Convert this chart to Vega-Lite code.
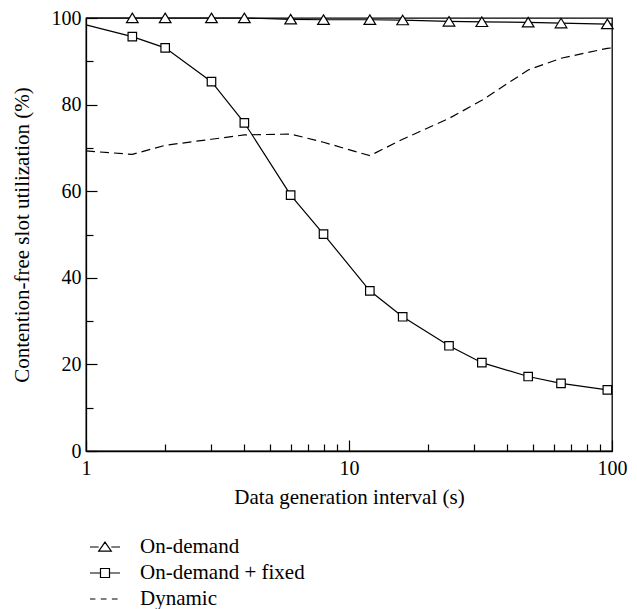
{
  "$schema": "https://vega.github.io/schema/vega-lite/v6.json",
  "width": 526,
  "height": 433,
  "autosize": {"type": "none"},
  "padding": {"left": 86, "top": 18, "right": 25, "bottom": 158},
  "background": "white",
  "config": {
    "view": {"stroke": "black", "strokeWidth": 1.3},
    "font": "Liberation Serif",
    "axis": {
      "grid": false,
      "domainColor": "black",
      "domainWidth": 1.3,
      "tickColor": "black",
      "tickWidth": 1.2,
      "labelColor": "black",
      "titleColor": "black",
      "labelFont": "Liberation Serif",
      "titleFont": "Liberation Serif",
      "labelFontSize": 20,
      "titleFontSize": 21,
      "titleFontWeight": "normal"
    }
  },
  "data": {
    "values": [
      {"series": "On-demand", "x": 1, "y": 100, "marker": false},
      {"series": "On-demand", "x": 1.5, "y": 100, "marker": true},
      {"series": "On-demand", "x": 2, "y": 100, "marker": true},
      {"series": "On-demand", "x": 3, "y": 100, "marker": true},
      {"series": "On-demand", "x": 4, "y": 100, "marker": true},
      {"series": "On-demand", "x": 6, "y": 99.7, "marker": true},
      {"series": "On-demand", "x": 8, "y": 99.6, "marker": true},
      {"series": "On-demand", "x": 12, "y": 99.6, "marker": true},
      {"series": "On-demand", "x": 16, "y": 99.5, "marker": true},
      {"series": "On-demand", "x": 24, "y": 99.2, "marker": true},
      {"series": "On-demand", "x": 32, "y": 99.1, "marker": true},
      {"series": "On-demand", "x": 48, "y": 99.0, "marker": true},
      {"series": "On-demand", "x": 64, "y": 98.8, "marker": true},
      {"series": "On-demand", "x": 96, "y": 98.6, "marker": true},
      {"series": "On-demand", "x": 100, "y": 98.6, "marker": false},
      {"series": "On-demand + fixed", "x": 1, "y": 98.4, "marker": false},
      {"series": "On-demand + fixed", "x": 1.5, "y": 95.7, "marker": true},
      {"series": "On-demand + fixed", "x": 2, "y": 93.1, "marker": true},
      {"series": "On-demand + fixed", "x": 3, "y": 85.3, "marker": true},
      {"series": "On-demand + fixed", "x": 4, "y": 75.8, "marker": true},
      {"series": "On-demand + fixed", "x": 6, "y": 59.1, "marker": true},
      {"series": "On-demand + fixed", "x": 8, "y": 50.1, "marker": true},
      {"series": "On-demand + fixed", "x": 12, "y": 37.0, "marker": true},
      {"series": "On-demand + fixed", "x": 16, "y": 31.0, "marker": true},
      {"series": "On-demand + fixed", "x": 24, "y": 24.3, "marker": true},
      {"series": "On-demand + fixed", "x": 32, "y": 20.4, "marker": true},
      {"series": "On-demand + fixed", "x": 48, "y": 17.2, "marker": true},
      {"series": "On-demand + fixed", "x": 64, "y": 15.6, "marker": true},
      {"series": "On-demand + fixed", "x": 96, "y": 14.1, "marker": true},
      {"series": "On-demand + fixed", "x": 100, "y": 14.0, "marker": false},
      {"series": "Dynamic", "x": 1, "y": 69.3, "marker": false},
      {"series": "Dynamic", "x": 1.5, "y": 68.5, "marker": false},
      {"series": "Dynamic", "x": 2, "y": 70.6, "marker": false},
      {"series": "Dynamic", "x": 3, "y": 72.0, "marker": false},
      {"series": "Dynamic", "x": 4, "y": 73.0, "marker": false},
      {"series": "Dynamic", "x": 6, "y": 73.2, "marker": false},
      {"series": "Dynamic", "x": 8, "y": 71.3, "marker": false},
      {"series": "Dynamic", "x": 12, "y": 68.2, "marker": false},
      {"series": "Dynamic", "x": 16, "y": 72.0, "marker": false},
      {"series": "Dynamic", "x": 24, "y": 76.8, "marker": false},
      {"series": "Dynamic", "x": 32, "y": 81.0, "marker": false},
      {"series": "Dynamic", "x": 48, "y": 88.0, "marker": false},
      {"series": "Dynamic", "x": 64, "y": 90.7, "marker": false},
      {"series": "Dynamic", "x": 96, "y": 93.0, "marker": false},
      {"series": "Dynamic", "x": 100, "y": 93.1, "marker": false}
    ]
  },
  "encoding": {
    "x": {
      "field": "x",
      "type": "quantitative",
      "scale": {"type": "log", "domain": [1, 100], "nice": false},
      "axis": {
        "title": "Data generation interval (s)",
        "values": [1, 2, 3, 4, 5, 6, 7, 8, 9, 10, 20, 30, 40, 50, 60, 70, 80, 90, 100],
        "format": "d",
        "labelExpr": "datum.value == 1 || datum.value == 10 || datum.value == 100 ? datum.label : ''",
        "tickSize": {"condition": {"test": "datum.value == 1 || datum.value == 10 || datum.value == 100", "value": -11}, "value": -7},
        "labelPadding": 18,
        "titlePadding": 4,
        "labelFlush": false,
        "labelOverlap": false
      }
    },
    "y": {
      "field": "y",
      "type": "quantitative",
      "scale": {"domain": [0, 100], "nice": false},
      "axis": {
        "title": "Contention-free slot utilization (%)",
        "values": [0, 10, 20, 30, 40, 50, 60, 70, 80, 90, 100],
        "labelExpr": "datum.value % 20 == 0 ? datum.label : ''",
        "tickSize": {"condition": {"test": "datum.value % 20 == 0", "value": -11}, "value": -7},
        "labelPadding": 16,
        "titlePadding": 19,
        "labelFlush": false,
        "labelOverlap": false
      }
    }
  },
  "layer": [
    {
      "transform": [{"filter": "datum.series != 'Dynamic'"}],
      "mark": {"type": "line", "color": "black", "strokeWidth": 1.2},
      "encoding": {"detail": {"field": "series"}}
    },
    {
      "transform": [{"filter": "datum.series == 'Dynamic'"}],
      "mark": {"type": "line", "color": "black", "strokeWidth": 1.2, "strokeDash": [9, 5]},
      "encoding": {}
    },
    {
      "transform": [{"filter": "datum.marker && datum.series == 'On-demand'"}],
      "mark": {"type": "point", "shape": "M0,-0.8L0.95,0.75L-0.95,0.75Z", "size": 150, "filled": true, "fill": "white", "stroke": "black", "strokeWidth": 1.2, "opacity": 1}
    },
    {
      "transform": [{"filter": "datum.marker && datum.series == 'On-demand + fixed'"}],
      "mark": {"type": "point", "shape": "square", "size": 72, "filled": true, "fill": "white", "stroke": "black", "strokeWidth": 1.2, "opacity": 1}
    },
    {
      "mark": {"type": "point", "size": 900, "filled": false, "strokeOpacity": 0, "color": "black"},
      "encoding": {
        "shape": {
          "field": "series",
          "type": "nominal",
          "scale": {
            "domain": ["On-demand", "On-demand + fixed", "Dynamic"],
            "range": [
              "M-1,0H-0.42M0.42,0H1M0,-0.33L0.42,0.27L-0.42,0.27Z",
              "M-1,0H-0.3M0.3,0H1M-0.3,-0.3H0.3V0.3H-0.3Z",
              "M-1,0H-0.64M-0.28,0H0.1M0.46,0H0.84"
            ]
          },
          "legend": {
            "orient": "none",
            "legendX": 3,
            "legendY": 513,
            "title": null,
            "labelFont": "Liberation Serif",
            "labelFontSize": 21,
            "labelColor": "black",
            "labelOffset": 19,
            "labelLimit": 400,
            "rowPadding": -4,
            "symbolSize": 900,
            "symbolOpacity": 1,
            "symbolStrokeColor": "black",
            "symbolFillColor": "white",
            "symbolStrokeWidth": 1.2
          }
        }
      }
    }
  ]
}
